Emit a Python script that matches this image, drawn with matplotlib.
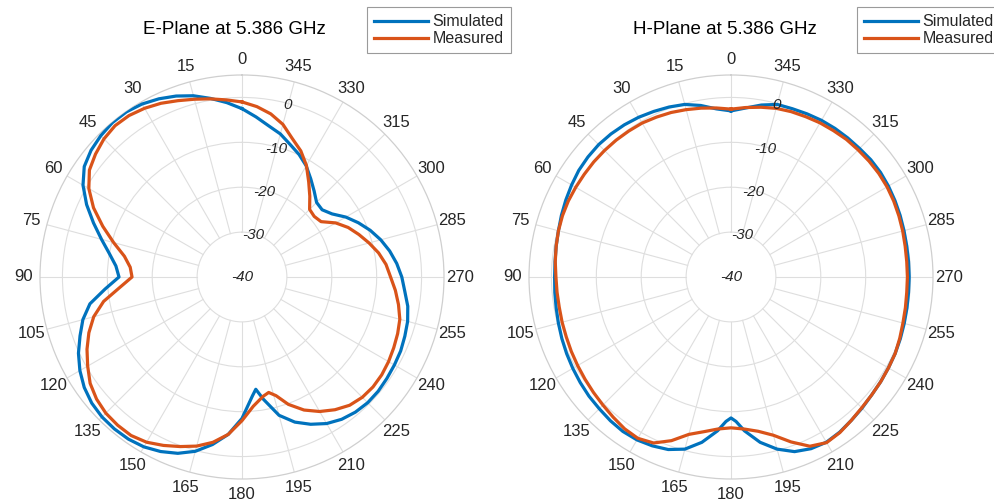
import numpy as np
import matplotlib
matplotlib.use("Agg")
import matplotlib.pyplot as plt

plt.rcParams['font.family'] = ['Liberation Sans', 'DejaVu Sans']

# ---- E-plane pattern (dB) vs angle (deg) ----
e_sim_deg = [0, 5, 10, 15, 20, 25, 30, 35, 40, 45, 50, 55, 60, 65, 70, 75, 80, 85, 90,
             95, 100, 105, 110, 115, 120, 125, 130, 135, 140, 145, 150, 155, 160, 165,
             170, 175, 180, 185, 187, 190, 195, 200, 205, 210, 215, 220, 225, 230, 235,
             240, 245, 250, 255, 260, 265, 270, 275, 280, 285, 290, 295, 300, 305, 310,
             315, 320, 325, 330, 335, 340, 345, 350, 355, 360]
e_sim_db = [-2.5, -1.0, 0.4, 1.8, 2.9, 3.8, 4.5, 4.9, 4.9, 4.5, 3.9, 2.9, 0.9, -1.8, -4.8,
            -7.6, -10.0, -11.8, -12.6, -9.4, -5.6, -3.3, -1.6, 0.2, 1.7, 2.9, 3.7, 4.1,
            4.2, 4.1, 3.7, 2.9, 1.8, 0.2, -2.1, -4.8, -8.5, -13.4, -14.8, -12.3, -8.1,
            -5.6, -3.8, -2.3, -1.3, -0.7, -0.4, -0.4, -0.6, -0.8, -1.0, -1.4, -1.8, -2.5,
            -3.6, -4.4, -5.4, -6.6, -8.0, -9.6, -11.4, -13.3, -15.5, -16.7, -16.5, -15.0,
            -13.3, -11.4, -9.9, -8.6, -7.0, -5.8, -4.2, -2.5]

e_meas_deg = [0, 5, 10, 15, 20, 25, 30, 35, 40, 45, 50, 55, 60, 65, 70, 75, 80, 85, 90,
              95, 100, 105, 110, 115, 120, 125, 130, 135, 140, 145, 150, 155, 160, 165,
              170, 175, 180, 185, 190, 193, 196, 200, 205, 210, 215, 220, 225, 230, 235,
              240, 245, 250, 255, 260, 265, 270, 275, 280, 285, 290, 295, 300, 305, 310,
              315, 320, 325, 330, 335, 340, 345, 350, 355, 360]
e_meas_db = [-1.0, -0.4, 0.3, 1.0, 1.8, 2.7, 3.4, 3.9, 4.0, 3.5, 2.6, 1.5, -0.6, -3.5,
             -7.0, -10.4, -13.4, -15.0, -15.5, -12.6, -8.7, -5.8, -3.7, -1.9, -0.3, 1.3,
             2.3, 2.9, 3.1, 3.1, 2.5, 1.4, 0.2, -1.0, -2.6, -4.8, -8.0, -11.1, -13.0,
             -13.6, -12.5, -9.8, -7.3, -5.4, -3.9, -2.7, -2.1, -1.9, -2.0, -2.3, -2.7,
             -3.1, -3.6, -4.6, -5.7, -6.9, -7.8, -9.1, -10.7, -12.3, -13.9, -15.9, -18.5,
             -19.0, -18.7, -16.5, -14.1, -11.3, -9.0, -7.2, -4.8, -3.1, -1.9, -1.0]

# ---- H-plane pattern (dB) vs angle (deg) ----
h_sim_deg = [0, 5, 10, 15, 20, 25, 30, 35, 40, 45, 50, 55, 60, 65, 70, 75, 80, 85, 90,
             95, 100, 105, 110, 115, 120, 125, 130, 135, 140, 145, 150, 155, 160, 165,
             170, 175, 178, 180, 182, 185, 190, 195, 200, 205, 210, 215, 220, 225, 230,
             235, 240, 245, 250, 255, 260, 265, 270, 275, 280, 285, 290, 295, 300, 305,
             310, 315, 320, 325, 330, 335, 340, 345, 350, 355, 360]
h_sim_db = [-3.0, -2.4, -1.2, -0.2, 0.3, 0.7, 1.1, 1.4, 1.6, 1.7, 1.6, 1.4, 1.0, 0.6, 0.2,
            -0.2, -0.45, -0.65, -0.7, -0.6, -0.45, -0.2, 0.1, 0.4, 0.7, 1.0, 1.3, 1.5,
            1.8, 2.0, 1.9, 1.5, 0.9, -0.3, -2.6, -5.6, -7.8, -8.6, -7.8, -5.6, -2.6,
            -0.3, 1.4, 2.2, 2.5, 2.2, 1.7, 1.3, 0.9, 0.7, 0.5, 0.35, 0.15, -0.05, -0.2,
            -0.3, -0.3, -0.3, -0.25, -0.1, 0.1, 0.3, 0.5, 0.65, 0.65, 0.5, 0.45, 0.4,
            0.3, 0.1, -0.1, -0.2, -1.1, -2.2, -3.0]

h_meas_deg = [0, 5, 10, 15, 20, 25, 30, 35, 40, 45, 50, 55, 60, 65, 70, 75, 80, 85, 90,
              95, 100, 105, 110, 115, 120, 125, 130, 135, 140, 145, 150, 155, 160, 165,
              170, 175, 180, 185, 190, 195, 200, 205, 210, 215, 220, 225, 230, 235, 240,
              245, 250, 255, 260, 265, 270, 275, 280, 285, 290, 295, 300, 305, 310, 315,
              320, 325, 330, 335, 340, 345, 350, 355, 360]
h_meas_db = [-2.6, -2.2, -1.8, -1.4, -1.0, -0.7, -0.4, -0.3, -0.2, -0.15, -0.1, -0.1,
             -0.05, 0.0, -0.05, -0.2, -0.45, -0.7, -1.0, -1.1, -1.15, -1.05, -0.95, -0.75,
             -0.55, -0.3, 0.0, 0.35, 0.8, 1.3, 1.5, 0.8, -1.2, -3.7, -5.0, -6.0, -6.4,
             -6.0, -5.1, -3.5, -0.9, 1.6, 2.6, 2.3, 1.7, 1.2, 0.9, 0.7, 0.5, 0.35, 0.0,
             -0.35, -0.55, -0.7, -0.7, -0.7, -0.6, -0.4, -0.2, 0.0, 0.15, 0.2, 0.15, 0.05,
             0.0, -0.2, -0.35, -0.6, -0.8, -1.1, -1.6, -2.1, -2.6]

titles = ["E-Plane at 5.386 GHz", "H-Plane at 5.386 GHz"]
series_names = ["Simulated", "Measured"]
theta_ticks = list(range(0, 360, 15))
r_ticks = [-40, -30, -20, -10, 0]
r_limits = (-40, 5)

BLUE = "#0072BD"
ORANGE = "#D95319"
GRID = "#dedede"
TEXT = "#262626"

W, H = 994, 504
fig = plt.figure(figsize=(W / 100, H / 100), dpi=100)

R_PX = 202
centers = [(242, 277), (731, 277)]
title_x = [234, 725]
legend_x = [367, 857]
patterns = [((e_sim_deg, e_sim_db), (e_meas_deg, e_meas_db)),
            ((h_sim_deg, h_sim_db), (h_meas_deg, h_meas_db))]

for k, (cx, cy) in enumerate(centers):
    ax = fig.add_axes([(cx - R_PX) / W, (H - cy - R_PX) / H, 2 * R_PX / W, 2 * R_PX / H],
                      projection="polar")
    ax.set_theta_zero_location("N")
    ax.set_theta_direction(1)
    ax.set_rlim(*r_limits)

    # radial rings
    ax.set_yticks(r_ticks[1:])
    ax.set_yticklabels([])
    ax.yaxis.grid(True, color=GRID, linewidth=0.8)
    ax.xaxis.grid(False)

    # angular spokes, starting at the innermost ring
    for t in theta_ticks:
        ax.plot([np.deg2rad(t)] * 2, [r_ticks[1], r_limits[1]], color=GRID,
                linewidth=0.8, zorder=1)

    ax.set_xticks(np.deg2rad(theta_ticks))
    ax.set_xticklabels([str(t) for t in theta_ticks], fontsize=12, color=TEXT)
    ax.tick_params(axis="x", pad=1)
    ax.spines["polar"].set_color("#cfcfcf")
    ax.spines["polar"].set_linewidth(0.9)

    # radial labels
    for r in r_ticks:
        th = 0.0 if r == r_ticks[0] else np.deg2rad(345)
        rr = r if r == r_ticks[0] else r - 0.4
        ax.text(th, rr, str(r), ha="center", va="center", fontsize=11,
                style="italic", color=TEXT, zorder=5)

    (sd, sv), (md, mv) = patterns[k]
    l1, = ax.plot(np.deg2rad(sd), sv, color=BLUE, linewidth=2.3, zorder=3,
                  label=series_names[0])
    l2, = ax.plot(np.deg2rad(md), mv, color=ORANGE, linewidth=2.3, zorder=4,
                  label=series_names[1])

    fig.text(title_x[k] / W, 1 - 30 / H, titles[k], ha="center", va="center",
             fontsize=13.5, color="black")

    leg = ax.legend(handles=[l1, l2], loc="upper left",
                    bbox_to_anchor=(legend_x[k] / W, 1 - 7 / H),
                    bbox_transform=fig.transFigure, fontsize=11.5, frameon=True,
                    fancybox=False, framealpha=1, edgecolor="#9a9a9a",
                    handlelength=3.4, handletextpad=0.25, labelspacing=0.12,
                    borderpad=0.45, borderaxespad=0)
    leg.get_frame().set_linewidth(0.8)
    for txt in leg.get_texts():
        txt.set_color(TEXT)

fig.savefig("out.png", dpi=100)
